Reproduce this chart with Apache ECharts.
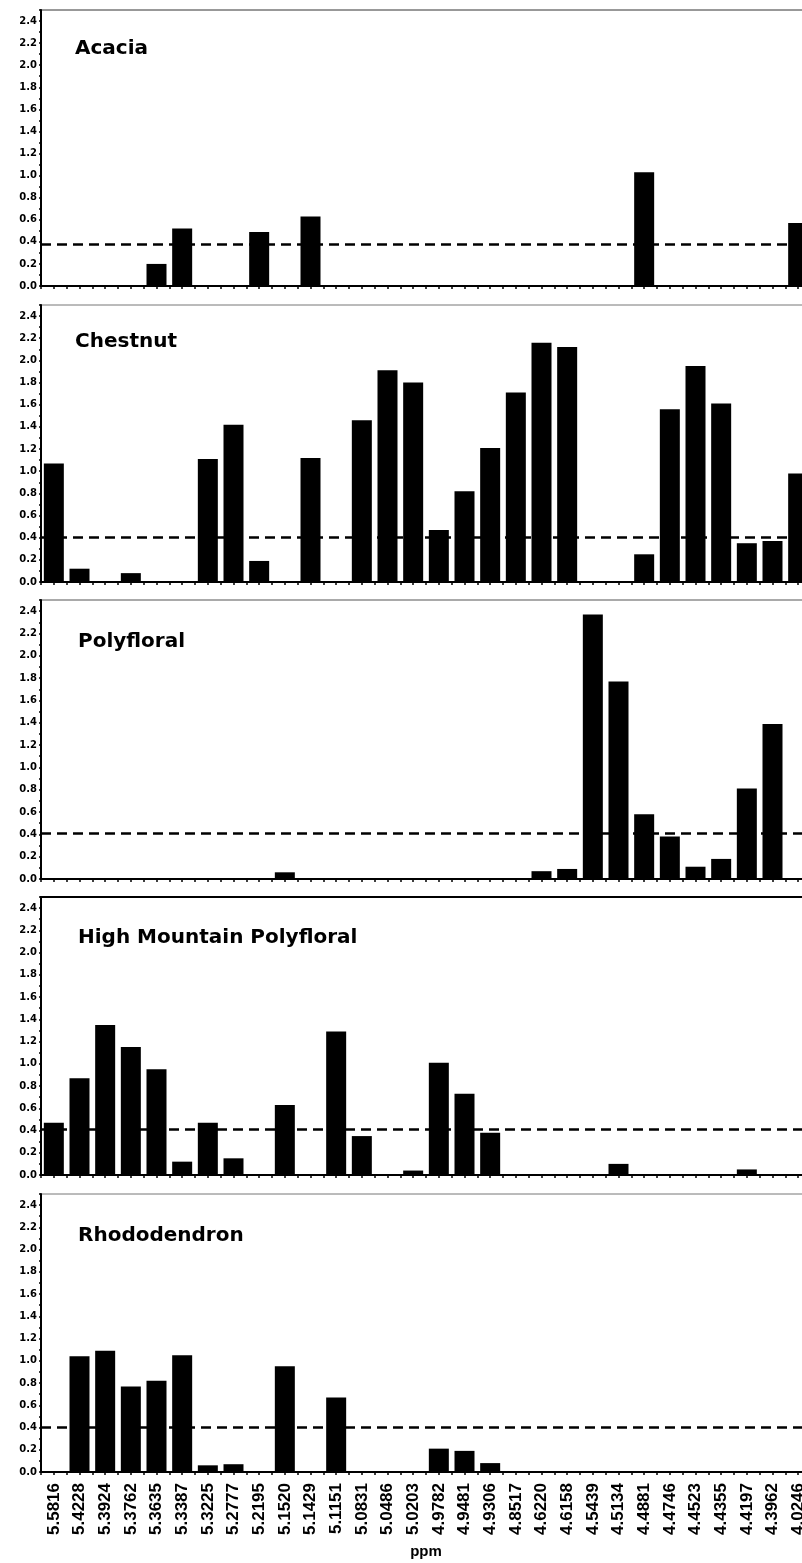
<!DOCTYPE html>
<html>
<head>
<meta charset="utf-8">
<script src="https://cdn.jsdelivr.net/npm/echarts@6/dist/echarts.min.js"></script>
<style>
  html, body { margin: 0; padding: 0; background: #fff; overflow: hidden; }
  /* the plot runs slightly past the right edge of the page, so the last band is clipped */
  #chart { width: 812px; height: 1563px; }
</style>
</head>
<body>
<div id="chart"></div>
<script>
// Chemical shifts (ppm) of the bucketed signals
const shifts = ['5.5816','5.4228','5.3924','5.3762','5.3635','5.3387','5.3225','5.2777','5.2195','5.1520',
                '5.1429','5.1151','5.0831','5.0486','5.0203','4.9782','4.9481','4.9306','4.8517','4.6220',
                '4.6158','4.5439','4.5134','4.4881','4.4746','4.4523','4.4355','4.4197','4.3962','4.0246'];

const honeyTypes = ['Acacia', 'Chestnut', 'Polyfloral', 'High Mountain Polyfloral', 'Rhododendron'];

// Relative importance of each signal per honey type
const acacia = [0,0,0,0,0.20,0.52,0,0,0.49,0,0.63,0,0,0,0,0,0,0,0,0,0,0,0,1.03,0,0,0,0,0,0.57];
const chestnut = [1.07,0.12,0,0.08,0,0,1.11,1.42,0.19,0,1.12,0,1.46,1.91,1.80,0.47,0.82,1.21,1.71,2.16,
                  2.12,0,0,0.25,1.56,1.95,1.61,0.35,0.37,0.98];
const polyfloral = [0,0,0,0,0,0,0,0,0,0.06,0,0,0,0,0,0,0,0,0,0.07,0.09,2.37,1.77,0.58,0.38,0.11,0.18,0.81,1.39,0];
const highMountain = [0.47,0.87,1.35,1.15,0.95,0.12,0.47,0.15,0,0.63,0,1.29,0.35,0,0.04,1.01,0.73,0.38,0,0,
                      0,0,0.10,0,0,0,0,0.05,0,0];
const rhododendron = [0,1.04,1.09,0.77,0.82,1.05,0.06,0.07,0,0.95,0,0.67,0,0,0,0.21,0.19,0.08,0,0,
                      0,0,0,0,0,0,0,0,0,0];

// Cut-off level drawn as a dashed line in each panel
const thresholds = [0.38, 0.40, 0.41, 0.41, 0.40];

const panelValues = [acacia, chestnut, polyfloral, highMountain, rhododendron];

// Panel placement
const gridTops = [10, 305, 600, 897, 1194];
const gridHeights = [276, 277, 279, 278, 278];
const borderColors = ['#333', '#777', '#555', '#000', '#777'];
const borderWidths = [1, 1, 1, 2, 1];
const titleTops = [39, 332, 632, 928, 1226];
const titleLefts = [75, 75, 78, 78, 78];

const grids = [], xAxes = [], yAxes = [], series = [], titles = [];

panelValues.forEach((values, i) => {
  const last = i === panelValues.length - 1;
  grids.push({
    left: 41, width: 770, top: gridTops[i], height: gridHeights[i],
    show: true, borderColor: borderColors[i], borderWidth: borderWidths[i],
    backgroundColor: 'transparent'
  });
  titles.push({
    text: honeyTypes[i], left: titleLefts[i], top: titleTops[i], padding: 0,
    textStyle: { fontFamily: 'DejaVu Sans', fontWeight: 'bold', fontSize: 20, color: '#000' }
  });
  // main category axis: ticks on band boundaries, labels on the last panel only
  xAxes.push({
    gridIndex: i, type: 'category', data: shifts, position: 'bottom',
    axisLine: { lineStyle: { color: '#000', width: 2 } },
    axisTick: { show: true, interval: 0, length: 3, lineStyle: { color: '#000', width: 1.5 } },
    axisLabel: {
      show: last, interval: 0, rotate: 90, margin: 11,
      fontFamily: 'Liberation Sans', fontWeight: 'bold', fontSize: 17, color: '#000'
    },
    name: last ? 'ppm' : '', nameLocation: 'middle', nameGap: 72,
    nameTextStyle: { fontFamily: 'Liberation Sans', fontWeight: 'bold', fontSize: 15, color: '#000' },
    splitLine: { show: false }
  });
  // companion axis adding ticks at band centres
  xAxes.push({
    gridIndex: i, type: 'category', data: shifts, position: 'bottom',
    axisLine: { show: false },
    axisTick: { show: true, interval: 0, alignWithLabel: true, length: 3, lineStyle: { color: '#000', width: 1.5 } },
    axisLabel: { show: false },
    splitLine: { show: false }
  });
  yAxes.push({
    gridIndex: i, type: 'value', min: 0, max: 2.5, interval: 0.2,
    axisLine: { show: true, lineStyle: { color: '#000', width: 2 } },
    axisTick: { show: true, length: 2, lineStyle: { color: '#000', width: 1.5 } },
    minorTick: { show: true, splitNumber: 2, length: 2, lineStyle: { color: '#000', width: 1.5 } },
    axisLabel: {
      margin: 4, showMaxLabel: false,
      fontFamily: 'DejaVu Sans', fontWeight: 'bold', fontSize: 10, color: '#000',
      formatter: v => v.toFixed(1)
    },
    splitLine: { show: false }
  });
  series.push({
    type: 'bar', xAxisIndex: 2 * i, yAxisIndex: i, data: values,
    barWidth: 20,
    itemStyle: { color: '#000' },
    markLine: {
      silent: true, symbol: 'none', label: { show: false },
      lineStyle: { color: '#000', type: [10, 6], width: 2.5 },
      data: [{ yAxis: thresholds[i] }]
    }
  });
});

const chart = echarts.init(document.getElementById('chart'));
chart.setOption({
  animation: false,
  backgroundColor: '#fff',
  title: titles,
  grid: grids,
  xAxis: xAxes,
  yAxis: yAxes,
  series: series
});
</script>
</body>
</html>
